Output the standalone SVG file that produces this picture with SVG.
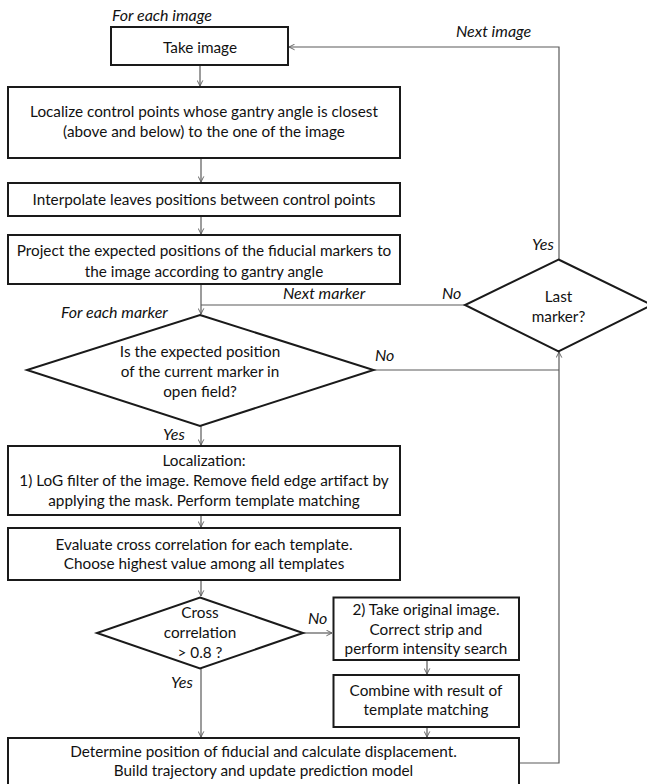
<svg xmlns="http://www.w3.org/2000/svg" width="647" height="784" viewBox="0 0 647 784">
<style>
.box{fill:#fff;stroke:#1a1a1a;stroke-width:2}
.t{font-family:Lato,"Liberation Sans",sans-serif;font-size:15.3px;fill:#111;text-anchor:middle}
.l{font-family:Lato,"Liberation Sans",sans-serif;font-size:16px;fill:#111;font-style:italic}
.c{fill:none;stroke:#5a5a5a;stroke-width:1.2}
</style>
<defs>
<marker id="ah" viewBox="0 0 10 10" refX="9" refY="5" markerWidth="7" markerHeight="7" markerUnits="userSpaceOnUse" orient="auto">
<path d="M1,1 L9,5 L1,9" fill="none" stroke="#5a5a5a" stroke-width="1.3"/>
</marker>
</defs>
<rect width="647" height="784" fill="#fff"/>
<g id="connectors">
<path class="c" d="M200,65 V86" marker-end="url(#ah)"/>
<path class="c" d="M559,259 V47 H289" marker-end="url(#ah)"/>
<path class="c" d="M201,158 V182" marker-end="url(#ah)"/>
<path class="c" d="M201,216 V234" marker-end="url(#ah)"/>
<path class="c" d="M201,284 V314" marker-end="url(#ah)"/>
<path class="c" d="M465,305 H201"/>
<path class="c" d="M373.5,370 H559"/>
<path class="c" d="M519,763 H559 V352" marker-end="url(#ah)"/>
<path class="c" d="M201,426 V445" marker-end="url(#ah)"/>
<path class="c" d="M201,515 V527" marker-end="url(#ah)"/>
<path class="c" d="M201,580 V596" marker-end="url(#ah)"/>
<path class="c" d="M303,633 H332" marker-end="url(#ah)"/>
<path class="c" d="M427,660 V674" marker-end="url(#ah)"/>
<path class="c" d="M427,727 V737" marker-end="url(#ah)"/>
<path class="c" d="M201,668 V737" marker-end="url(#ah)"/>
</g>
<g id="labels">
<text class="l" x="112" y="21">For each image</text>
<text class="l" x="456" y="37">Next image</text>
<text class="l" x="532" y="250">Yes</text>
<text class="l" x="283" y="299">Next marker</text>
<text class="l" x="442" y="299">No</text>
<text class="l" x="61" y="318">For each marker</text>
<text class="l" x="375" y="361">No</text>
<text class="l" x="163" y="440">Yes</text>
<text class="l" x="308" y="624">No</text>
<text class="l" x="171" y="688">Yes</text>
</g>
<g id="take">
<rect class="box" x="111" y="27" width="177" height="38"/>
<text class="t" x="200" y="53">Take image</text>
</g>
<g id="localize">
<rect class="box" x="8" y="87" width="392" height="71"/>
<text class="t" x="204" y="117">Localize control points whose gantry angle is closest</text>
<text class="t" x="204" y="137">(above and below) to the one of the image</text>
</g>
<g id="interpolate">
<rect class="box" x="8" y="183" width="392" height="33"/>
<text class="t" x="204" y="205">Interpolate leaves positions between control points</text>
</g>
<g id="project">
<rect class="box" x="8" y="235" width="392" height="49"/>
<text class="t" x="204" y="256">Project the expected positions of the fiducial markers to</text>
<text class="t" x="204" y="277">the image according to gantry angle</text>
</g>
<g id="lastmarker">
<polygon class="box" points="558.5,259.5 652,305 558.5,351.5 465,305"/>
<text class="t" x="558.5" y="302">Last</text>
<text class="t" x="558.5" y="322">marker?</text>
</g>
<g id="openfield">
<polygon class="box" points="200,315 373.5,370 200,426 27,370"/>
<text class="t" x="200" y="357">Is the expected position</text>
<text class="t" x="200" y="377">of the current marker in</text>
<text class="t" x="200" y="397">open field?</text>
</g>
<g id="localization">
<rect class="box" x="8" y="446" width="392" height="69"/>
<text class="t" x="204" y="466">Localization:</text>
<text class="t" x="204" y="486">1) LoG filter of the image. Remove field edge artifact by</text>
<text class="t" x="204" y="506">applying the mask. Perform template matching</text>
</g>
<g id="evaluate">
<rect class="box" x="8" y="528" width="392" height="52"/>
<text class="t" x="204" y="550">Evaluate cross correlation for each template.</text>
<text class="t" x="204" y="569">Choose highest value among all templates</text>
</g>
<g id="crosscorr">
<polygon class="box" points="200,597.5 303,633 200,668.5 97,633"/>
<text class="t" x="200" y="618">Cross</text>
<text class="t" x="200" y="638">correlation</text>
<text class="t" x="200" y="658">&gt; 0.8 ?</text>
</g>
<g id="original">
<rect class="box" x="333.5" y="597.5" width="185.5" height="62.5"/>
<text class="t" x="426" y="615">2) Take original image.</text>
<text class="t" x="426" y="635">Correct strip and</text>
<text class="t" x="426" y="654">perform intensity search</text>
</g>
<g id="combine">
<rect class="box" x="333.5" y="675" width="185.5" height="52"/>
<text class="t" x="426" y="696">Combine with result of</text>
<text class="t" x="426" y="715">template matching</text>
</g>
<g id="determine">
<rect class="box" x="8" y="738" width="511" height="52"/>
<text class="t" x="263.5" y="757">Determine position of fiducial and calculate displacement.</text>
<text class="t" x="263.5" y="776">Build trajectory and update prediction model</text>
</g>
</svg>
